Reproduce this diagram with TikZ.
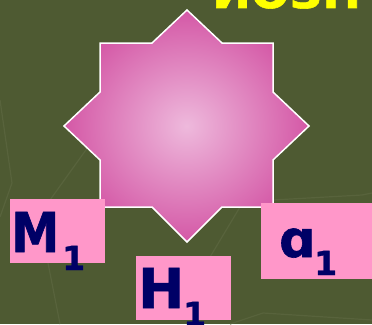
\documentclass[tikz,border=0pt]{standalone}
\usepackage{fontspec}
\setmainfont{DejaVu Sans}
\newfontfamily\heavy{DejaVu Sans Bold}[FakeBold=1.2]
\definecolor{bgc}{HTML}{4E5A32}
\definecolor{lnc}{HTML}{58633C}
\definecolor{boxc}{HTML}{FF97C9}
\definecolor{navy}{HTML}{000066}
\definecolor{starin}{HTML}{EEB9DC}
\definecolor{starout}{HTML}{D458A6}
\definecolor{ttl}{HTML}{FFFF00}
\tikzset{
  pinkbox/.style={fill=boxc, draw=none, inner sep=0pt, anchor=north west},
  bigletter/.style={text=navy, inner sep=0pt, anchor=base west, font=\fontsize{55}{55}\heavy},
  subone/.style={text=navy, inner sep=0pt, anchor=base west, font=\fontsize{33}{33}\heavy},
  faint/.style={draw=lnc, line width=1.2pt},
}
\begin{document}
\begin{tikzpicture}[x=1pt,y=-1pt]
\useasboundingbox (0,0) rectangle (372,324);
\fill[bgc] (0,0) rectangle (372,324);
\begin{scope}
\clip (0,0) rectangle (372,324);
% faint background lines
\draw[faint] (0,100) -- (12,183) -- (0,217);
\draw[faint] (50,200) -- (88,147);
\draw[faint] (48,263) -- (60,324);
\draw[faint] (273,200) -- (362,195) -- (372,193);
\draw[faint] (210,257) -- (240,207);
\draw[faint] (230,324) -- (263,313) -- (372,320);
% title fragment
\node[text=ttl, inner sep=0pt, anchor=base west, font=\fontsize{46}{46}\heavy] (title) at (212,8) {ИОЗН};
% star
\path[draw=white, line width=1.5pt, line join=miter, inner color=starin, outer color=starout]
 (187,10) -- (222,43) -- (273,43) -- (273,92) -- (309,126) -- (273,160) -- (273,207)
 -- (222,207) -- (187,242) -- (152,207) -- (100,207) -- (100,160) -- (64,126)
 -- (100,92) -- (100,43) -- (152,43) -- cycle;
% boxes
\node[pinkbox, minimum width=95pt, minimum height=64pt] (mbox) at (10,199) {};
\node[pinkbox, minimum width=95pt, minimum height=64pt] (hbox) at (136,256) {};
\node[pinkbox, minimum width=112pt, minimum height=76pt] (abox) at (261,203) {};
% texts
\node[bigletter] (mt) at (11,252) {\scalebox{0.88}[1]{M}};
\node[subone] (ms) at (62,270) {1};
\node[bigletter] (ht) at (138,308) {H};
\node[subone] (hs) at (183,326) {1};
\node[bigletter, font=\fontsize{51}{51}\heavy] (at) at (279,257) {ɑ};
\node[subone] (as) at (314,275) {1};
\end{scope}
\end{tikzpicture}
\end{document}
